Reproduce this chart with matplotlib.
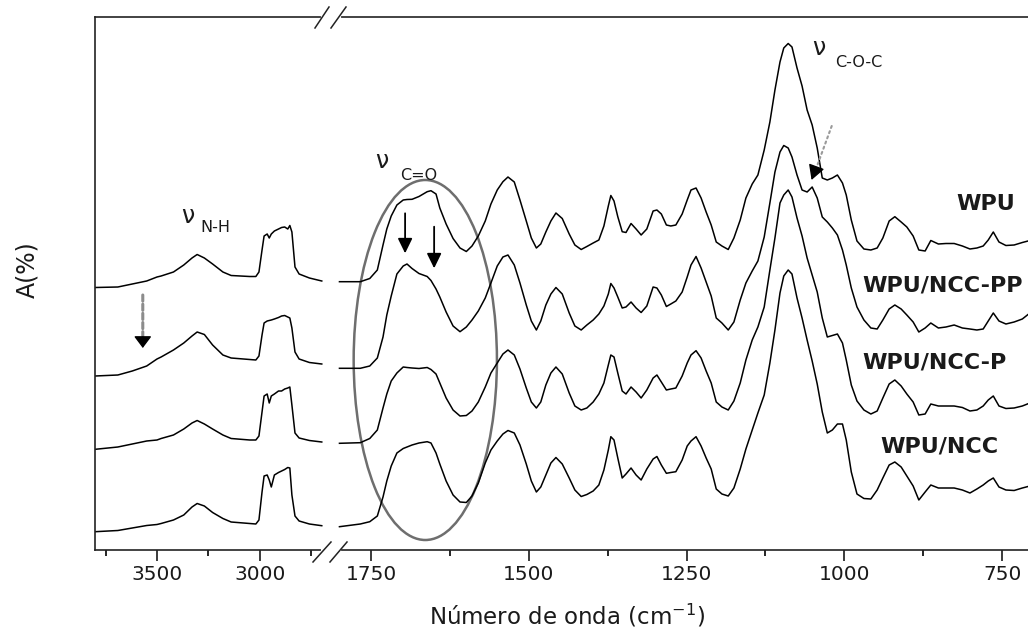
"""
FTIR spectra of WPU and WPU/NCC films, broken wavenumber axis.
Spectra are stacked (arbitrary absorbance units, offsets included).
"""

import matplotlib
matplotlib.use("Agg")
import matplotlib.pyplot as plt
from matplotlib.patches import Ellipse
from matplotlib.lines import Line2D

# ── Data: high-wavenumber window (N-H / C-H region) ────────────
wn_high = [3800, 3690, 3620, 3550, 3500, 3480, 3420, 3370, 3330, 3305,
           3270, 3230, 3180, 3140, 3050, 3020, 3005, 2990, 2980, 2965,
           2955, 2945, 2930, 2910, 2895, 2880, 2865, 2855, 2845, 2830,
           2810, 2760, 2700]

wpu_high = [2.625, 2.63, 2.66, 2.69, 2.73, 2.74, 2.78, 2.85, 2.92, 2.955,
            2.92, 2.86, 2.78, 2.745, 2.735, 2.735, 2.78, 3.00, 3.14, 3.16,
            3.12, 3.16, 3.19, 3.21, 3.225, 3.23, 3.21, 3.245, 3.18, 2.83,
            2.76, 2.72, 2.69]
ncc_pp_high = [1.74, 1.75, 1.79, 1.84, 1.91, 1.93, 2.00, 2.07, 2.14, 2.18,
               2.155, 2.05, 1.95, 1.92, 1.905, 1.90, 1.94, 2.15, 2.27, 2.29,
               2.295, 2.30, 2.31, 2.325, 2.34, 2.345, 2.33, 2.32, 2.22, 1.98,
               1.91, 1.875, 1.86]
ncc_p_high = [1.007, 1.03, 1.06, 1.09, 1.10, 1.115, 1.15, 1.21, 1.27, 1.295,
              1.26, 1.21, 1.15, 1.115, 1.10, 1.10, 1.14, 1.38, 1.54, 1.56,
              1.47, 1.54, 1.56, 1.59, 1.59, 1.61, 1.62, 1.63, 1.45, 1.17,
              1.12, 1.095, 1.08]
ncc_high = [0.183, 0.195, 0.22, 0.245, 0.255, 0.265, 0.30, 0.35, 0.43, 0.465,
            0.44, 0.375, 0.315, 0.28, 0.265, 0.26, 0.30, 0.58, 0.74, 0.75,
            0.70, 0.63, 0.75, 0.775, 0.79, 0.805, 0.825, 0.82, 0.55, 0.34,
            0.29, 0.26, 0.243]

# ── Data: fingerprint window ───────────────────────────────────
wn_low = [1800, 1767, 1752, 1740, 1731, 1725, 1718, 1709, 1699, 1693,
          1685, 1674, 1661, 1655, 1647, 1641, 1631, 1620, 1609, 1599,
          1590, 1580, 1569, 1560, 1550, 1541, 1533, 1523, 1514, 1504,
          1496, 1488, 1481, 1473, 1465, 1457, 1447, 1436, 1427, 1417,
          1408, 1398, 1389, 1381, 1374, 1370, 1365, 1359, 1352, 1346,
          1338, 1330, 1322, 1313, 1303, 1297, 1290, 1282, 1275, 1267,
          1257, 1249, 1243, 1235, 1227, 1219, 1211, 1203, 1194, 1184,
          1175, 1165, 1156, 1146, 1137, 1127, 1118, 1110, 1102, 1096,
          1089, 1083, 1075, 1067, 1059, 1051, 1043, 1035, 1027, 1019,
          1011, 1003, 997, 989, 980, 969, 958, 948, 939, 929,
          920, 910, 901, 891, 882, 872, 863, 851, 839, 826,
          813, 801, 790, 780, 772, 764, 755, 744, 731, 718,
          706]

wpu_low = [2.683, 2.683, 2.715, 2.80, 3.05, 3.21, 3.34, 3.45, 3.50, 3.505,
           3.507, 3.535, 3.583, 3.593, 3.56, 3.42, 3.26, 3.115, 3.02, 2.985,
           3.04, 3.14, 3.29, 3.46, 3.60, 3.683, 3.73, 3.68, 3.50, 3.29,
           3.12, 3.02, 3.06, 3.18, 3.29, 3.37, 3.315, 3.16, 3.05, 3.005,
           3.035, 3.07, 3.10, 3.24, 3.44, 3.545, 3.49, 3.333, 3.183, 3.175,
           3.265, 3.21, 3.15, 3.21, 3.39, 3.40, 3.36, 3.25, 3.24, 3.25,
           3.36, 3.50, 3.60, 3.62, 3.52, 3.38, 3.25, 3.08, 3.04, 3.005,
           3.12, 3.30, 3.52, 3.66, 3.75, 4.00, 4.28, 4.60, 4.88, 5.02,
           5.065, 5.03, 4.82, 4.64, 4.40, 4.25, 4.02, 3.72, 3.70, 3.72,
           3.75, 3.67, 3.55, 3.30, 3.09, 3.01, 3.00, 3.02, 3.12, 3.29,
           3.333, 3.28, 3.23, 3.14, 3.00, 2.99, 3.095, 3.06, 3.065, 3.065,
           3.04, 3.01, 3.02, 3.04, 3.10, 3.18, 3.08, 3.045, 3.05, 3.075,
           3.095]
ncc_pp_low = [1.817, 1.817, 1.84, 1.92, 2.13, 2.35, 2.54, 2.76, 2.84, 2.86,
              2.815, 2.765, 2.735, 2.695, 2.61, 2.53, 2.38, 2.24, 2.183, 2.23,
              2.30, 2.39, 2.52, 2.67, 2.84, 2.93, 2.95, 2.85, 2.67, 2.45,
              2.29, 2.20, 2.29, 2.45, 2.56, 2.625, 2.56, 2.37, 2.24, 2.20,
              2.25, 2.30, 2.36, 2.44, 2.56, 2.665, 2.62, 2.53, 2.42, 2.43,
              2.48, 2.42, 2.375, 2.44, 2.63, 2.62, 2.55, 2.435, 2.46, 2.49,
              2.58, 2.73, 2.85, 2.935, 2.82, 2.68, 2.54, 2.32, 2.27, 2.20,
              2.28, 2.50, 2.67, 2.79, 2.89, 3.13, 3.47, 3.78, 3.98, 4.045,
              4.02, 3.93, 3.75, 3.60, 3.58, 3.63, 3.52, 3.33, 3.28, 3.22,
              3.15, 3.00, 2.85, 2.62, 2.43, 2.30, 2.22, 2.21, 2.30, 2.41,
              2.45, 2.41, 2.35, 2.28, 2.18, 2.22, 2.27, 2.22, 2.23, 2.25,
              2.22, 2.21, 2.20, 2.21, 2.29, 2.37, 2.29, 2.26, 2.28, 2.31,
              2.37]
ncc_p_low = [1.067, 1.073, 1.115, 1.20, 1.42, 1.56, 1.69, 1.77, 1.83, 1.825,
             1.82, 1.815, 1.825, 1.805, 1.76, 1.67, 1.52, 1.40, 1.34, 1.345,
             1.39, 1.48, 1.63, 1.77, 1.87, 1.96, 2.00, 1.95, 1.81, 1.62,
             1.48, 1.42, 1.48, 1.65, 1.77, 1.83, 1.76, 1.57, 1.44, 1.40,
             1.42, 1.48, 1.56, 1.67, 1.85, 1.95, 1.93, 1.77, 1.59, 1.56,
             1.63, 1.58, 1.52, 1.60, 1.72, 1.75, 1.68, 1.60, 1.61, 1.62,
             1.74, 1.87, 1.95, 1.993, 1.92, 1.79, 1.67, 1.48, 1.43, 1.40,
             1.49, 1.67, 1.90, 2.10, 2.23, 2.43, 2.80, 3.12, 3.47, 3.55,
             3.60, 3.53, 3.32, 3.14, 2.92, 2.75, 2.58, 2.32, 2.13, 2.145,
             2.16, 2.07, 1.90, 1.65, 1.49, 1.40, 1.36, 1.39, 1.52, 1.66,
             1.70, 1.64, 1.56, 1.48, 1.35, 1.36, 1.46, 1.44, 1.44, 1.44,
             1.425, 1.39, 1.40, 1.44, 1.50, 1.54, 1.44, 1.415, 1.42, 1.44,
             1.47]
ncc_low = [0.233, 0.26, 0.283, 0.34, 0.53, 0.69, 0.84, 0.97, 1.015, 1.03,
           1.05, 1.07, 1.083, 1.07, 0.97, 0.86, 0.69, 0.55, 0.48, 0.475,
           0.54, 0.67, 0.87, 1.00, 1.09, 1.16, 1.195, 1.17, 1.05, 0.86,
           0.69, 0.58, 0.63, 0.75, 0.87, 0.925, 0.86, 0.72, 0.60, 0.535,
           0.555, 0.59, 0.65, 0.80, 1.00, 1.133, 1.10, 0.92, 0.72, 0.76,
           0.82, 0.75, 0.70, 0.81, 0.91, 0.935, 0.85, 0.767, 0.775, 0.783,
           0.90, 1.04, 1.09, 1.133, 1.04, 0.92, 0.81, 0.61, 0.56, 0.54,
           0.62, 0.81, 1.01, 1.20, 1.37, 1.55, 1.87, 2.20, 2.57, 2.74,
           2.80, 2.76, 2.52, 2.32, 2.10, 1.89, 1.66, 1.38, 1.17, 1.20,
           1.26, 1.26, 1.10, 0.78, 0.56, 0.515, 0.51, 0.60, 0.72, 0.85,
           0.88, 0.83, 0.74, 0.64, 0.50, 0.58, 0.65, 0.62, 0.62, 0.62,
           0.60, 0.57, 0.61, 0.65, 0.69, 0.72, 0.63, 0.60, 0.595, 0.62,
           0.64]

sample_labels = ["WPU", "WPU/NCC-PP", "WPU/NCC-P", "WPU/NCC"]
high_series = [wpu_high, ncc_pp_high, ncc_p_high, ncc_high]
low_series = [wpu_low, ncc_pp_low, ncc_p_low, ncc_low]

# where each sample name sits (wavenumber, absorbance)
label_pos = [(822, 3.40), (972, 2.585), (972, 1.82), (943, 0.98)]

# ── Figure / broken axes ───────────────────────────────────────
W, H = 1028, 633
INK = "#1a1a1a"
fig = plt.figure(figsize=(W / 100, H / 100), dpi=100)
fig.patch.set_facecolor("white")

y0 = (H - 550) / H
hgt = 533 / H
ax_l = fig.add_axes([95 / W, y0, 235 / W, hgt])
ax_r = fig.add_axes([330 / W, y0, 710 / W, hgt])

for ax in (ax_l, ax_r):
    ax.set_ylim(0, 5.33)
    ax.set_yticks([])
    for sp in ax.spines.values():
        sp.set_linewidth(1.2)
        sp.set_color("#222222")
    ax.tick_params(axis="x", which="major", direction="out", length=8,
                   width=1.2, labelsize=14.5, pad=3, colors=INK)
    ax.tick_params(axis="x", which="minor", direction="out", length=4,
                   width=1.2)

ax_l.spines["right"].set_visible(False)
ax_r.spines["left"].set_visible(False)

ax_l.set_xlim(3801, 2660)
ax_l.set_xticks([3500, 3000])
ax_l.set_xticks([3750, 3250, 2750], minor=True)

ax_r.set_xlim(1815, 690)
ax_r.set_xticks([1750, 1500, 1250, 1000, 750])
ax_r.set_xticks([1625, 1375, 1125, 875], minor=True)

for ys in high_series:
    ax_l.plot(wn_high, ys, color="black", lw=1.1)
for ys in low_series:
    ax_r.plot(wn_low, ys, color="black", lw=1.1)

# ── Sample names ───────────────────────────────────────────────
for name, (xw, ya) in zip(sample_labels, label_pos):
    ax_r.text(xw, ya, name, fontsize=16, fontweight="bold", color=INK,
              ha="left", va="baseline")

# ── Band assignments ───────────────────────────────────────────
ax_l.text(3383, 3.27, "\u03bd", fontsize=17, color=INK, ha="left",
          va="baseline")
ax_l.text(3291, 3.175, "N-H", fontsize=11.5, color=INK, ha="left",
          va="baseline")
ax_r.text(1744, 3.82, "\u03bd", fontsize=17, color=INK, ha="left",
          va="baseline")
ax_r.text(1704, 3.70, "C=O", fontsize=11.5, color=INK, ha="left",
          va="baseline")
ax_r.text(1051, 4.95, "\u03bd", fontsize=17, color=INK, ha="left",
          va="baseline")
ax_r.text(1015, 4.83, "C-O-C", fontsize=11.5, color=INK, ha="left",
          va="baseline")

ax_r.add_patch(Ellipse((1664, 1.90), width=227, height=3.60, fill=False,
                       edgecolor="#6e6e6e", lw=1.8))

# two solid arrows inside the carbonyl ellipse
for xw, top, tip in [(1696, 3.367, 2.967), (1650, 3.233, 2.817)]:
    ax_r.annotate("", xy=(xw, tip), xytext=(xw, top),
                  arrowprops=dict(arrowstyle="-|>,head_length=0.45,head_width=0.22",
                                  color="black", lw=1.3, mutation_scale=20,
                                  shrinkA=0, shrinkB=0))

# dashed arrow under the N-H band
ax_l.annotate("", xy=(3569, 2.12), xytext=(3569, 2.55),
              arrowprops=dict(arrowstyle="-", color="#8c8c8c", lw=2.2,
                              linestyle=(0, (2, 1)), shrinkA=0, shrinkB=0))
ax_l.annotate("", xy=(3569, 2.02), xytext=(3569, 2.13),
              arrowprops=dict(arrowstyle="-|>,head_length=0.36,head_width=0.27",
                              color="black", lw=1, mutation_scale=20,
                              shrinkA=0, shrinkB=0))

# dotted diagonal arrow at the C-O-C shoulder
ax_r.annotate("", xy=(1045, 3.81), xytext=(1020, 4.24),
              arrowprops=dict(arrowstyle="-", color="#9a9a9a", lw=1.5,
                              linestyle=":", shrinkA=0, shrinkB=0))
ax_r.annotate("", xy=(1052, 3.70), xytext=(1045, 3.82),
              arrowprops=dict(arrowstyle="-|>,head_length=0.45,head_width=0.25",
                              color="black", lw=1, mutation_scale=20,
                              shrinkA=0, shrinkB=0))

# ── Axis break marks ───────────────────────────────────────────
def px_line(x0p, y0p, x1p, y1p, **kw):
    fig.add_artist(Line2D([x0p / W, x1p / W], [1 - y0p / H, 1 - y1p / H],
                          transform=fig.transFigure, **kw))

for sy in (17, 551):
    px_line(323, sy, 339, sy, color="white", lw=3, zorder=5)
px_line(315, 28, 329, 7, color="#222222", lw=1.1, zorder=6)
px_line(331, 28, 346, 7, color="#222222", lw=1.1, zorder=6)
px_line(313, 562, 331, 542, color="#222222", lw=1.1, zorder=6)
px_line(330, 562, 347, 542, color="#222222", lw=1.1, zorder=6)

# ── Axis titles ────────────────────────────────────────────────
fig.text(567 / W, 1 - 624 / H, "Número de onda (cm$^{-1}$)", fontsize=16.5,
         color=INK, ha="center", va="baseline")
fig.text(27 / W, 1 - 270 / H, "A(%)", fontsize=17, color=INK, rotation=90,
         ha="center", va="center")

fig.savefig("out.png", dpi=100)
plt.close(fig)
